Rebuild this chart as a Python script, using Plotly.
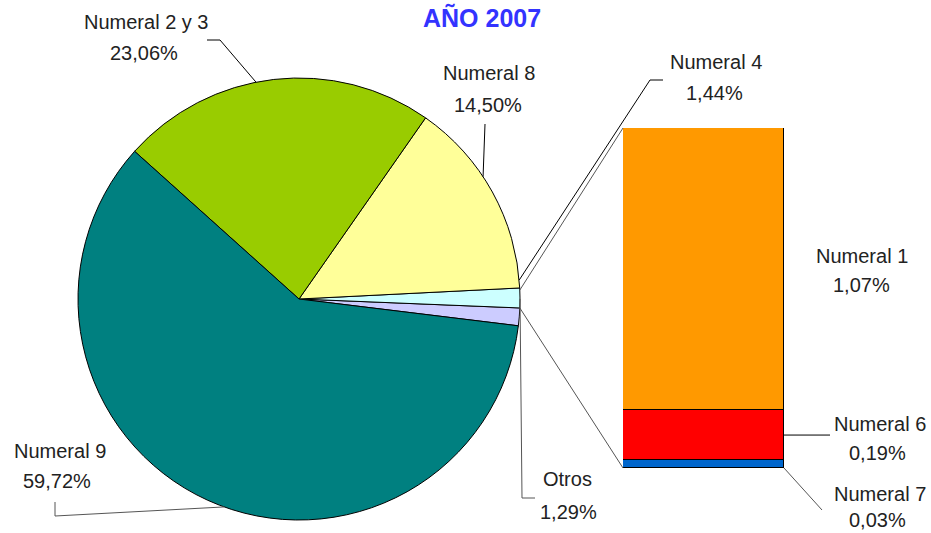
import math
import plotly.graph_objects as go

# ---- data ----
pie_labels = ["Otros", "Numeral 4", "Numeral 8", "Numeral 2 y 3", "Numeral 9"]
pie_values = [1.29, 1.44, 14.50, 23.06, 59.72]
pie_colors = ["#CCCCFF", "#CCFFFF", "#FFFF99", "#99CC00", "#008080"]

bar_labels = ["Numeral 7", "Numeral 6", "Numeral 1"]
bar_values = [0.03, 0.19, 1.07]
bar_colors = ["#0066CC", "#FF0000", "#FF9900"]

title_text = "AÑO 2007"

W, H = 931, 533
def px(x): return x / W
def py(y): return 1 - y / H

# pie geometry (layout, in page pixels)
cx, cy, r = 299, 299, 221
# bar geometry (layout, in page pixels)
bx0, bx1, by_top, by_bot = 623, 784, 128, 468

total = sum(pie_values)
start_deg = -pie_values[0] / total * 180.0  # center "Otros" on the right
rotation = 90 - start_deg

bounds = [start_deg]
for v in pie_values:
    bounds.append(bounds[-1] + v / total * 360.0)
def edge(deg):
    a = math.radians(deg)
    return (cx + r * math.cos(a), cy - r * math.sin(a))
mid = {lab: edge((bounds[i] + bounds[i + 1]) / 2) for i, lab in enumerate(pie_labels)}

fig = go.Figure()
fig.add_trace(go.Pie(
    labels=pie_labels, values=pie_values, sort=False, direction="counterclockwise",
    rotation=rotation, textinfo="none", hoverinfo="label+percent",
    marker=dict(colors=pie_colors, line=dict(color="#000000", width=1)),
    domain=dict(x=[px(cx - r), px(cx + r)], y=[py(cy + r), py(cy - r)]),
    showlegend=False,
))
for lab, val, col in zip(bar_labels, bar_values, bar_colors):
    fig.add_trace(go.Bar(
        x=[0], y=[val], name=lab, width=1, marker=dict(color=col, line=dict(color="#000000", width=1)),
        showlegend=False, xaxis="x", yaxis="y",
    ))

shapes = []
def path(points, color="#000000", width=1):
    d = "M " + " L ".join(f"{px(x)},{py(y)}" for x, y in points)
    shapes.append(dict(type="path", path=d, xref="paper", yref="paper",
                       line=dict(color=color, width=width)))

# connectors from "Otros" slice to bar
path([edge(bounds[1]), (bx0, by_top)], color="#555555")
path([edge(bounds[0]), (bx0, by_bot)], color="#555555")

# leader lines
path([mid["Numeral 2 y 3"], (220, 40), (207, 40)])
path([mid["Numeral 8"], (485, 124)])
path([mid["Numeral 4"], (650, 80), (663, 80)])
path([mid["Otros"], (522, 498), (535, 498)], color="#555555")
path([mid["Numeral 9"], (55, 516), (55, 502)], color="#555555")
bar_mid6 = (by_bot - (bar_values[0] + bar_values[1] / 2) / sum(bar_values) * (by_bot - by_top))
path([(bx1, bar_mid6), (830, bar_mid6)])
path([(bx1, by_bot), (822, 510)], color="#555555")

annotations = [dict(text=f"<b>{title_text}</b>", x=px(482), y=py(18), xref="paper", yref="paper",
                    showarrow=False, xanchor="center", yanchor="middle",
                    font=dict(family="Liberation Sans, Arial", size=25, color="#3333FF"))]

pct = {lab: v for lab, v in zip(pie_labels, pie_values)}
pct.update({lab: v for lab, v in zip(bar_labels, bar_values)})
def fmt(v): return f"{v:.2f}".replace(".", ",") + "%"

label_pos = {
    "Numeral 2 y 3": (146, 22, 144, 53),
    "Numeral 8": (489, 73, 488, 105),
    "Numeral 4": (716, 62, 714, 93),
    "Numeral 1": (862, 256, 861, 285),
    "Numeral 6": (880, 424, 877, 453),
    "Numeral 7": (880, 494, 877, 520),
    "Otros": (567, 479, 568, 512),
    "Numeral 9": (60, 451, 57, 481),
}
for lab, (x1, y1, x2, y2) in label_pos.items():
    for txt, x, y in ((lab, x1, y1), (fmt(pct[lab]), x2, y2)):
        annotations.append(dict(text=txt, x=px(x), y=py(y), xref="paper", yref="paper",
                                showarrow=False, xanchor="center", yanchor="middle",
                                font=dict(family="Liberation Sans, Arial", size=20, color="#222222")))

fig.update_layout(
    width=W, height=H, margin=dict(l=0, r=0, t=0, b=0),
    paper_bgcolor="#FFFFFF", plot_bgcolor="rgba(0,0,0,0)",
    barmode="stack", bargap=0,
    xaxis=dict(domain=[px(bx0), px(bx1)], range=[-0.5, 0.5], visible=False, fixedrange=True),
    yaxis=dict(domain=[py(by_bot), py(by_top)], range=[0, sum(bar_values)], visible=False, fixedrange=True),
    shapes=shapes, annotations=annotations,
)
fig.write_html(
    "out.html",
    config={"displayModeBar": False},
    post_script="document.body.style.margin='0';document.documentElement.style.overflow='hidden';",
)
